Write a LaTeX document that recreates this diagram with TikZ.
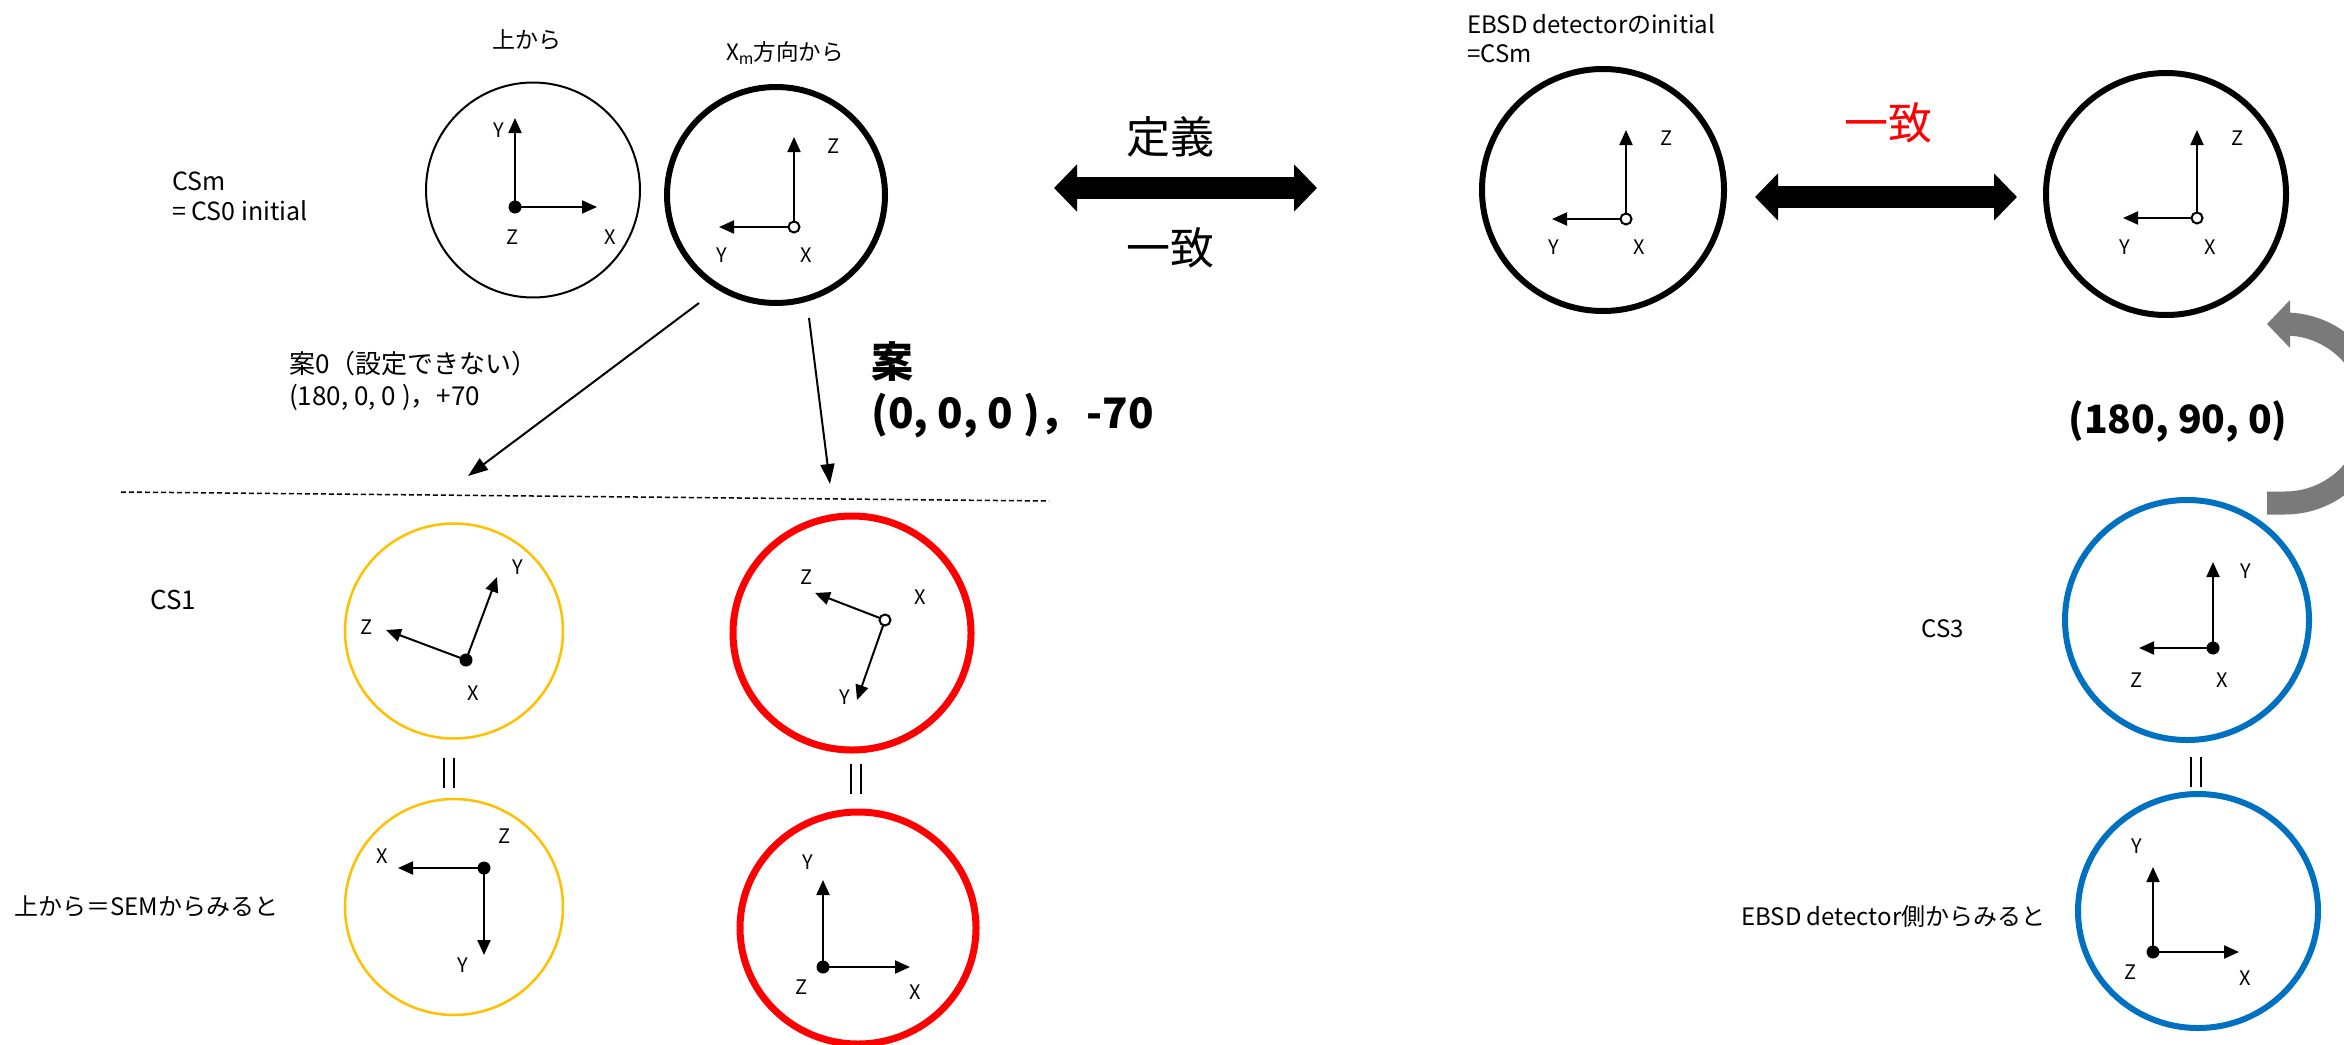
\documentclass[tikz,border=0pt]{standalone}
\usepackage{fontspec}
\setmainfont{Noto Sans CJK JP}
\usetikzlibrary{arrows.meta,shapes.geometric}
\definecolor{cyel}{RGB}{255,192,0}
\definecolor{cred}{RGB}{255,0,0}
\definecolor{cblue}{RGB}{0,112,192}
\definecolor{cgray}{RGB}{122,122,122}
\tikzset{
  ring/.style={ellipse, draw, inner sep=0pt, outer sep=0pt},
  axisarrow/.style={line width=2pt, -{Triangle[length=15pt,width=13pt]}},
  lbl/.style={inner sep=0pt, font=\fontsize{20}{24}\selectfont},
  small/.style={inner sep=0pt, align=left, anchor=west, font=\fontsize{21}{29}\selectfont},
  conn/.style={line width=2pt, -{Triangle[length=20pt,width=14pt]}},
  bigarrow/.style={line width=22pt, {Triangle[length=23pt,width=46pt]}-{Triangle[length=23pt,width=46pt]}},
  bigtext/.style={inner sep=0pt, font=\fontsize{44}{50}\selectfont},
  eqmark/.style={line width=2pt},
}
\newcommand{\solidO}[1]{\fill #1 circle (6.5);}
\newcommand{\openO}[1]{\filldraw[fill=white, line width=2pt] #1 circle (5.5);}
\begin{document}
\begin{tikzpicture}[x=1pt,y=-1pt]
\useasboundingbox (0,0) rectangle (2344,1044);
\clip (0,0) rectangle (2344,1044);
\fill[white] (0,0) rectangle (2344,1044);

% ---------- top left ----------
\node[lbl, font=\fontsize{23}{26}\selectfont] (tA) at (527,40) {上から};
\node[lbl, font=\fontsize{22.5}{26}\selectfont] (tB) at (785,53) {X\textsubscript{m}方向から};
\node[small, font=\fontsize{25}{30}\selectfont] (tCSm) at (172,196) {CSm\\= CS0 initial};

\node[ring, line width=2pt, minimum width=214pt, minimum height=215pt] (cA) at (533,190) {};
\draw[axisarrow] (515,207) -- (515,118);
\draw[axisarrow] (515,207) -- (597,207);
\solidO{(515,207)}
\node[lbl] at (499,130) {Y};
\node[lbl] at (513,237) {Z};
\node[lbl] at (610,237) {X};

\node[ring, line width=6pt, minimum width=218pt, minimum height=216pt] (cB) at (776,195) {};
\draw[axisarrow] (794,227) -- (794,137);
\draw[axisarrow] (794,227) -- (719,227);
\openO{(794,227)}
\node[lbl] at (834,146) {Z};
\node[lbl] at (722,255) {Y};
\node[lbl] at (806,255) {X};

% ---------- big double arrows ----------
\coordinate (dL1) at (1054,188);
\coordinate (dL2) at (1317,188);
\draw[bigarrow] (dL1) -- (dL2);
\node[bigtext] (tDef) at (1170,137) {定義};
\node[bigtext] (tAgr) at (1170,248) {一致};

\node[small, font=\fontsize{24}{29}\selectfont] (tEB) at (1467,39) {EBSD detectorのinitial\\=CSm};

\node[ring, line width=6pt, minimum width=242pt, minimum height=242pt] (cC) at (1603,190) {};
\draw[axisarrow] (1626,219) -- (1626,130);
\draw[axisarrow] (1626,219) -- (1552,219);
\openO{(1626,219)}
\node[lbl] at (1667,138) {Z};
\node[lbl] at (1554,247) {Y};
\node[lbl] at (1639,247) {X};

\coordinate (dR1) at (1755,197);
\coordinate (dR2) at (2017,197);
\draw[bigarrow] (dR1) -- (dR2);
\node[bigtext, text=cred] (tAgr2) at (1888,123) {一致};

\node[ring, line width=6pt, minimum width=240pt, minimum height=242pt] (cD) at (2166,194) {};
\draw[axisarrow] (2197,218) -- (2197,130);
\draw[axisarrow] (2197,218) -- (2123,218);
\openO{(2197,218)}
\node[lbl] at (2237,138) {Z};
\node[lbl] at (2125,247) {Y};
\node[lbl] at (2210,247) {X};

% ---------- gray curved arrow ----------
\draw[cgray, line width=23pt] (2267,503) -- (2285,503) arc[start angle=90, end angle=-90, radius=89.5] -- (2289,324);
\fill[cgray] (2267,324) -- (2290,300) -- (2290,348) -- cycle;
\node[inner sep=0pt, font=\fontsize{39}{44}\selectfont\bfseries] (tRot) at (2178,422) {(180, 90, 0)};

% ---------- connectors from Xm circle ----------
\coordinate (s0) at (699,303);
\coordinate (e0) at (468,476);
\coordinate (s1) at (809,318);
\coordinate (e1) at (830,484);
\draw[conn] (s0) -- (e0);
\draw[conn] (s1) -- (e1);
\node[small, font=\fontsize{26}{32}\selectfont] (tCase0) at (289,381) {案0（設定できない）\\(180, 0, 0 )，+70};
\node[small, font=\fontsize{42}{51}\selectfont\bfseries] (tCase1) at (871,390) {案\\(0, 0, 0 )，\hspace{5pt}-70};

\coordinate (dl1) at (121,492);
\coordinate (dl2) at (1049,501);
\draw[line width=1.5pt, dash pattern=on 5pt off 3pt] (dl1) -- (dl2);

% ---------- CS1 row ----------
\node[small, font=\fontsize{26}{30}\selectfont] (tCS1) at (150,600) {CS1};

\node[ring, draw=cyel, line width=2.5pt, minimum width=218pt, minimum height=215pt] (y1) at (454,631) {};
\draw[axisarrow] (466,660) -- (497,577);
\draw[axisarrow] (466,660) -- (386,630);
\solidO{(466,660)}
\node[lbl] at (518,567) {Y};
\node[lbl] at (367,627) {Z};
\node[lbl] at (473,693) {X};

\node[ring, draw=cred, line width=7pt, minimum width=238pt, minimum height=234pt] (r1) at (852,633) {};
\draw[axisarrow] (885,620) -- (815,593);
\draw[axisarrow] (885,620) -- (857,700);
\openO{(885,620)}
\node[lbl] at (807,577) {Z};
\node[lbl] at (920,597) {X};
\node[lbl] at (845,697) {Y};

% equality marks
\draw[eqmark] (444,758) -- (444,788) (454,758) -- (454,788);
\draw[eqmark] (851,764) -- (851,794) (861,764) -- (861,794);
\draw[eqmark] (2191,757) -- (2191,787) (2201,757) -- (2201,787);

% ---------- bottom row ----------
\node[small, font=\fontsize{24}{28}\selectfont] (tSEM) at (14,906) {上から＝SEMからみると};

\node[ring, draw=cyel, line width=2.5pt, minimum width=218pt, minimum height=216pt] (y2) at (454,907) {};
\draw[axisarrow] (484,868) -- (398,868);
\draw[axisarrow] (484,868) -- (484,955);
\solidO{(484,868)}
\node[lbl] at (505,836) {Z};
\node[lbl] at (382,856) {X};
\node[lbl] at (463,965) {Y};

\node[ring, draw=cred, line width=7pt, minimum width=236pt, minimum height=232pt] (r2) at (858,928) {};
\draw[axisarrow] (823,967) -- (823,880);
\draw[axisarrow] (823,967) -- (910,967);
\solidO{(823,967)}
\node[lbl] at (808,862) {Y};
\node[lbl] at (802,987) {Z};
\node[lbl] at (915,992) {X};

% ---------- right column ----------
\node[inner sep=0pt, font=\fontsize{24}{28}\selectfont] (tCS3) at (1943,629) {CS3};
\node[ring, draw=cblue, line width=6pt, minimum width=244pt, minimum height=240pt] (b1) at (2187,620) {};
\draw[axisarrow] (2213,648) -- (2213,562);
\draw[axisarrow] (2213,648) -- (2139,648);
\solidO{(2213,648)}
\node[lbl] at (2246,571) {Y};
\node[lbl] at (2136,680) {Z};
\node[lbl] at (2222,680) {X};

\node[small, font=\fontsize{24}{28}\selectfont] (tEB2) at (1741,916) {EBSD detector側からみると};
\node[ring, draw=cblue, line width=6pt, minimum width=240pt, minimum height=234pt] (b2) at (2198,911) {};
\draw[axisarrow] (2153,952) -- (2153,867);
\draw[axisarrow] (2153,952) -- (2239,952);
\solidO{(2153,952)}
\node[lbl] at (2137,846) {Y};
\node[lbl] at (2131,972) {Z};
\node[lbl] at (2245,978) {X};
\end{tikzpicture}
\end{document}
